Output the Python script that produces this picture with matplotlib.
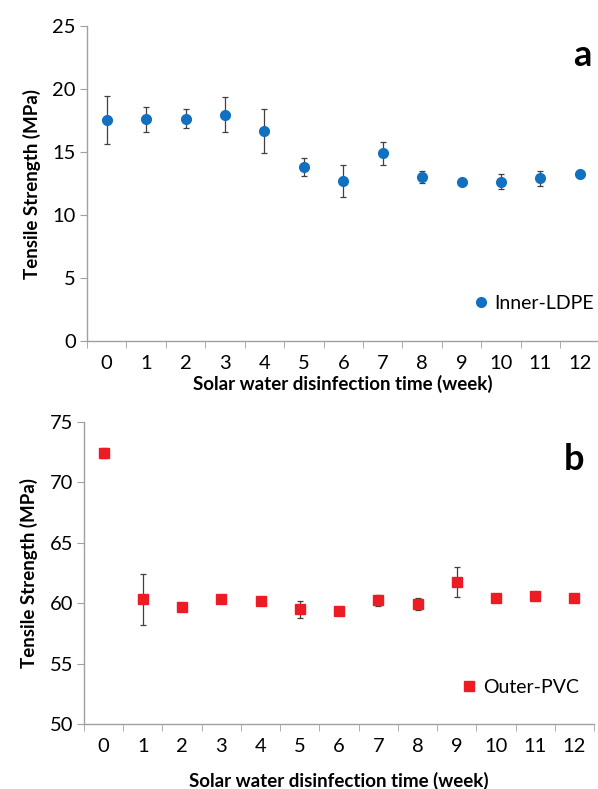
import numpy as np
import matplotlib.pyplot as plt
from matplotlib.lines import Line2D

# weeks of solar water disinfection
weeks = list(range(13))

# inner LDPE layer
ldpe_mean = [17.55, 17.6, 17.65, 17.97, 16.68, 13.8, 12.71, 14.9, 13.03, 12.66, 12.66, 12.92, 13.29]
ldpe_err = [1.9, 1.0, 0.77, 1.42, 1.75, 0.73, 1.29, 0.9, 0.49, 0.15, 0.62, 0.59, 0.2]

# outer PVC layer
pvc_mean = [72.44, 60.32, 59.72, 60.32, 60.19, 59.5, 59.33, 60.24, 59.91, 61.76, 60.43, 60.63, 60.43]
pvc_err = [0.4, 2.1, 0.1, 0.1, 0.1, 0.72, 0.1, 0.47, 0.5, 1.27, 0.1, 0.1, 0.1]

plt.rcParams['font.family'] = ['Lato', 'DejaVu Sans']

fig = plt.figure(figsize=(5.98, 7.89), dpi=100)
ax1 = fig.add_axes([0.1455, 0.5678, 0.857, 0.3992])
ax2 = fig.add_axes([0.1405, 0.0824, 0.853, 0.3828])


def style_axis(ax, ylim, yticks):
    ax.set_xlim(-0.5, 12.5)
    ax.set_ylim(*ylim)
    ax.set_yticks(yticks)
    ax.set_xticks(weeks)
    ax.set_xticks(np.arange(-0.5, 13, 1), minor=True)
    ax.tick_params(axis='x', which='major', length=0, labelsize=14.5, pad=10)
    ax.tick_params(axis='x', which='minor', length=5, color='#a0a0a0', direction='out')
    ax.tick_params(axis='y', length=5, color='#a0a0a0', labelsize=14.5, pad=3)
    for s in ['top', 'right']:
        ax.spines[s].set_visible(False)
    for s in ['left', 'bottom']:
        ax.spines[s].set_color('#a0a0a0')
        ax.spines[s].set_linewidth(1.0)
    ax.set_ylabel('Tensile Strength (MPa)', fontsize=13.5, fontweight='bold', labelpad=8)


blue = '#1170C0'
red = '#ED1C24'

ax1.errorbar(weeks, ldpe_mean, yerr=ldpe_err, fmt='o', color=blue, ms=7,
             ecolor='#404040', elinewidth=0.9, capsize=2.5, capthick=0.9)
style_axis(ax1, (0, 25), [0, 5, 10, 15, 20, 25])
ax1.set_xlabel('Solar water disinfection time (week)', fontsize=13.5, fontweight='bold', labelpad=2)
h1 = Line2D([], [], marker='o', ls='none', color=blue, ms=7)
ax1.legend([h1], ['Inner-LDPE'], loc='center right', bbox_to_anchor=(0.99, 0.12),
           frameon=False, fontsize=14, handletextpad=0.1, handlelength=1.2,
           borderpad=0, borderaxespad=0)
ax1.text(0.985, 0.96, 'a', transform=ax1.transAxes, fontsize=26, fontweight='bold',
         ha='right', va='top')

ax2.errorbar(weeks, pvc_mean, yerr=pvc_err, fmt='s', color=red, ms=7,
             ecolor='#404040', elinewidth=0.9, capsize=2.5, capthick=0.9)
style_axis(ax2, (50, 75), [50, 55, 60, 65, 70, 75])
ax2.set_xlabel('Solar water disinfection time (week)', fontsize=13.5, fontweight='bold', labelpad=12)
h2 = Line2D([], [], marker='s', ls='none', color=red, ms=7)
ax2.legend([h2], ['Outer-PVC'], loc='center right', bbox_to_anchor=(0.97, 0.12),
           frameon=False, fontsize=14, handletextpad=0.1, handlelength=1.2,
           borderpad=0, borderaxespad=0)
ax2.text(0.98, 0.93, 'b', transform=ax2.transAxes, fontsize=26, fontweight='bold',
         ha='right', va='top')

fig.savefig('out.png', dpi=100)
